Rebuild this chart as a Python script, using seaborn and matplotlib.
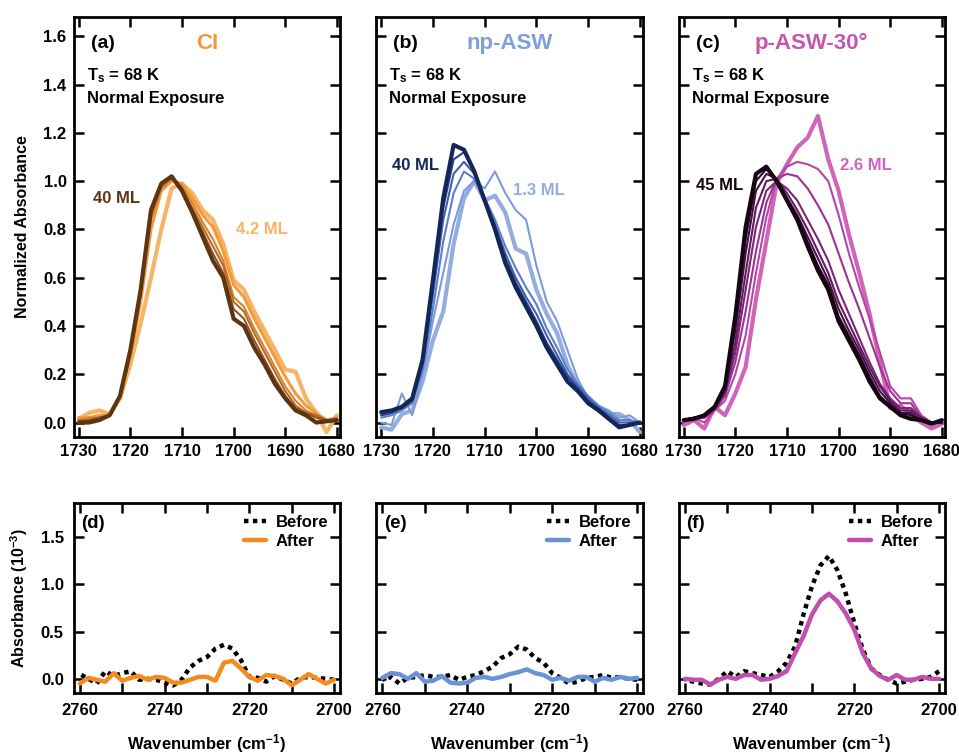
import numpy as np
import pandas as pd
import matplotlib
matplotlib.use("Agg")
import matplotlib.pyplot as plt
import seaborn as sns
from matplotlib.ticker import MultipleLocator

# ---------------- data ----------------
wn_top = [1730, 1728, 1726, 1724, 1722, 1720, 1718, 1716, 1714, 1712, 1710, 1708, 1706,
          1704, 1702, 1700, 1698, 1696, 1694, 1692, 1690, 1688, 1686, 1684, 1682, 1680]

# (a) CI : 4.2 ML -> 40 ML
a_4p2 = [0.015, 0.04, 0.05, 0.035, 0.10, 0.24, 0.41, 0.60, 0.80, 0.97, 0.99, 0.95, 0.88,
         0.84, 0.74, 0.59, 0.55, 0.46, 0.38, 0.30, 0.22, 0.21, 0.10, 0.04, -0.04, 0.03]
a_c2 = [0.02, 0.02, 0.03, 0.03, 0.11, 0.27, 0.50, 0.80, 0.96, 1.00, 0.99, 0.93, 0.86,
        0.81, 0.71, 0.57, 0.52, 0.43, 0.35, 0.27, 0.19, 0.12, 0.07, 0.04, 0.01, 0.02]
a_c3 = [0.01, 0.02, 0.02, 0.03, 0.11, 0.28, 0.52, 0.84, 0.97, 1.01, 0.98, 0.91, 0.83,
        0.76, 0.67, 0.52, 0.48, 0.39, 0.31, 0.23, 0.15, 0.09, 0.05, 0.03, 0.01, 0.02]
a_c4 = [0.01, 0.01, 0.02, 0.03, 0.11, 0.29, 0.53, 0.86, 0.98, 1.01, 0.97, 0.89, 0.81,
        0.73, 0.65, 0.50, 0.46, 0.37, 0.29, 0.21, 0.13, 0.07, 0.04, 0.03, 0.01, 0.01]
a_c5 = [0.00, 0.01, 0.02, 0.03, 0.11, 0.30, 0.54, 0.87, 0.99, 1.02, 0.97, 0.88, 0.79,
        0.70, 0.62, 0.47, 0.43, 0.34, 0.26, 0.18, 0.11, 0.06, 0.04, 0.02, 0.01, 0.01]
a_40 = [0.00, 0.00, 0.01, 0.03, 0.11, 0.30, 0.55, 0.88, 0.99, 1.02, 0.96, 0.87, 0.77,
        0.67, 0.60, 0.43, 0.40, 0.31, 0.24, 0.16, 0.10, 0.05, 0.03, 0.00, 0.005, 0.01]

# (b) np-ASW : 1.3 ML -> 40 ML
b_1p3 = [-0.02, -0.03, 0.035, 0.05, 0.17, 0.34, 0.46, 0.74, 0.93, 1.00, 0.92, 0.94, 0.87,
         0.72, 0.70, 0.55, 0.45, 0.37, 0.24, 0.15, 0.08, 0.06, 0.035, 0.035, 0.01, -0.04]
b_c2 = [0.00, -0.01, 0.12, 0.03, 0.20, 0.42, 0.62, 0.82, 0.96, 1.00, 0.97, 1.04, 0.95,
        0.88, 0.84, 0.65, 0.50, 0.42, 0.30, 0.18, 0.10, 0.07, 0.05, 0.02, 0.03, 0.00]
b_c3 = [0.02, 0.03, 0.05, 0.08, 0.22, 0.47, 0.75, 0.95, 1.04, 1.01, 0.93, 0.84, 0.73,
        0.64, 0.56, 0.49, 0.39, 0.31, 0.22, 0.16, 0.11, 0.07, 0.04, 0.01, 0.01, 0.00]
b_c4 = [0.03, 0.04, 0.06, 0.09, 0.24, 0.53, 0.84, 1.03, 1.08, 1.03, 0.92, 0.82, 0.70,
        0.60, 0.52, 0.45, 0.36, 0.28, 0.20, 0.15, 0.10, 0.06, 0.03, 0.00, 0.00, 0.00]
b_c5 = [0.03, 0.04, 0.06, 0.09, 0.25, 0.56, 0.89, 1.09, 1.12, 1.04, 0.92, 0.81, 0.68,
        0.58, 0.50, 0.42, 0.33, 0.26, 0.19, 0.14, 0.09, 0.06, 0.02, -0.01, -0.01, 0.00]
b_40 = [0.043, 0.05, 0.065, 0.10, 0.26, 0.59, 0.93, 1.15, 1.13, 1.04, 0.92, 0.80, 0.66,
        0.56, 0.48, 0.40, 0.31, 0.24, 0.17, 0.13, 0.08, 0.05, 0.015, -0.02, -0.01, 0.00]

# (c) p-ASW-30 : 2.6 ML -> 45 ML
c_2p6 = [-0.01, 0.01, -0.025, 0.065, 0.03, 0.12, 0.23, 0.51, 0.75, 0.99, 1.07, 1.14, 1.18,
         1.27, 1.09, 0.96, 0.78, 0.62, 0.45, 0.25, 0.06, 0.07, 0.035, 0.00, -0.025, -0.005]
c_c2 = [0.00, 0.02, 0.00, 0.05, 0.09, 0.20, 0.36, 0.62, 0.85, 1.01, 1.06, 1.08, 1.07,
        1.05, 1.00, 0.86, 0.70, 0.56, 0.43, 0.29, 0.15, 0.10, 0.10, 0.03, 0.00, 0.00]
c_c3 = [0.01, 0.02, 0.02, 0.05, 0.11, 0.25, 0.46, 0.71, 0.91, 1.01, 1.03, 1.02, 0.97,
        0.90, 0.82, 0.70, 0.58, 0.47, 0.35, 0.23, 0.13, 0.08, 0.08, 0.02, 0.00, 0.00]
c_c4 = [0.01, 0.02, 0.02, 0.06, 0.12, 0.29, 0.55, 0.81, 0.96, 1.00, 0.97, 0.92, 0.84,
        0.76, 0.67, 0.55, 0.45, 0.35, 0.25, 0.16, 0.10, 0.06, 0.06, 0.02, 0.00, 0.00]
c_c5 = [0.01, 0.02, 0.03, 0.06, 0.13, 0.33, 0.62, 0.89, 1.00, 1.01, 0.95, 0.88, 0.80,
        0.71, 0.62, 0.50, 0.41, 0.32, 0.23, 0.15, 0.09, 0.05, 0.05, 0.02, 0.00, 0.00]
c_c6 = [0.01, 0.02, 0.03, 0.06, 0.14, 0.38, 0.70, 0.96, 1.03, 1.01, 0.93, 0.86, 0.77,
        0.68, 0.59, 0.47, 0.38, 0.30, 0.21, 0.13, 0.08, 0.04, 0.04, 0.01, 0.00, 0.00]
c_c7 = [0.01, 0.02, 0.03, 0.06, 0.14, 0.41, 0.76, 1.00, 1.05, 1.00, 0.92, 0.85, 0.75,
        0.65, 0.57, 0.44, 0.36, 0.28, 0.19, 0.11, 0.07, 0.04, 0.03, 0.01, 0.00, 0.00]
c_45 = [0.01, 0.015, 0.03, 0.065, 0.15, 0.44, 0.81, 1.03, 1.06, 1.00, 0.92, 0.84, 0.73,
        0.63, 0.55, 0.42, 0.34, 0.26, 0.17, 0.10, 0.065, 0.03, 0.015, 0.01, -0.005, 0.01]

# bottom row: 2760 -> 2700
wn_bot = [2760, 2758, 2756, 2754, 2752, 2750, 2748, 2746, 2744, 2742, 2740, 2738, 2736,
          2734, 2732, 2730, 2728, 2726, 2724, 2722, 2720, 2718, 2716, 2714, 2712, 2710,
          2708, 2706, 2704, 2702, 2700]
d_before = [0.05, 0.00, -0.05, 0.08, 0.03, 0.06, 0.08, -0.01, 0.00, -0.01, -0.04, -0.07, -0.01,
            0.12, 0.19, 0.23, 0.32, 0.36, 0.32, 0.20, 0.02, 0.01, -0.03, 0.03, -0.01, -0.05,
            0.01, 0.02, 0.01, 0.00, -0.01]
d_after = [-0.05, 0.01, -0.01, -0.03, 0.06, -0.02, 0.01, 0.03, -0.01, 0.02, 0.01, -0.04, -0.04,
           -0.01, 0.02, 0.02, -0.02, 0.17, 0.19, 0.11, 0.02, -0.02, 0.04, 0.03, 0.00, -0.07,
           -0.01, 0.05, 0.00, -0.05, -0.01]
e_before = [-0.01, 0.02, -0.05, 0.01, 0.02, 0.04, 0.02, 0.02, 0.04, -0.01, 0.02, 0.04, 0.08,
            0.13, 0.22, 0.26, 0.34, 0.31, 0.22, 0.17, 0.06, 0.01, -0.05, -0.03, 0.01, 0.02,
            0.04, 0.01, 0.02, 0.00, -0.01]
e_after = [0.01, 0.06, 0.05, 0.00, 0.06, -0.03, -0.02, 0.03, -0.04, -0.05, -0.04, 0.01, 0.02,
           0.00, 0.02, 0.05, 0.07, 0.10, 0.06, 0.04, -0.01, 0.01, -0.02, 0.02, 0.02, -0.03,
           0.01, -0.01, 0.02, 0.00, 0.01]
f_before = [-0.01, -0.03, -0.05, -0.06, 0.00, 0.08, 0.02, 0.08, 0.06, 0.04, 0.02, 0.08, 0.17,
            0.34, 0.68, 0.98, 1.20, 1.30, 1.15, 0.90, 0.59, 0.31, 0.11, 0.04, -0.01, -0.05,
            -0.03, -0.01, 0.00, 0.02, 0.08]
f_after = [0.00, -0.01, -0.01, -0.06, -0.01, 0.02, 0.00, 0.04, 0.04, -0.01, 0.00, 0.03, 0.08,
           0.27, 0.45, 0.68, 0.83, 0.90, 0.82, 0.69, 0.52, 0.27, 0.11, 0.03, -0.01, 0.04,
           -0.01, -0.01, 0.02, 0.00, 0.00]

panel_titles = ["CI", "np-ASW", "p-ASW-30°"]
panel_letters_top = ["(a)", "(b)", "(c)"]
panel_letters_bot = ["(d)", "(e)", "(f)"]
thick_labels = [("40 ML", "4.2 ML"), ("40 ML", "1.3 ML"), ("45 ML", "2.6 ML")]

# ---------------- style ----------------
sns.set_style("ticks")
plt.rcParams["font.family"] = ["Liberation Sans", "DejaVu Sans"]
plt.rcParams["font.weight"] = "bold"
plt.rcParams["mathtext.fontset"] = "custom"
plt.rcParams["mathtext.bf"] = "Liberation Sans:bold"
plt.rcParams["mathtext.rm"] = "Liberation Sans:bold"
plt.rcParams["mathtext.default"] = "bf"
plt.rcParams["axes.linewidth"] = 2.0
for key in ["axes.edgecolor", "text.color", "axes.labelcolor", "xtick.color", "ytick.color"]:
    plt.rcParams[key] = "black"

title_colors = ["#F5963A", "#7F9FDB", "#C755B0"]
after_colors = ["#F58A1F", "#6A93D6", "#C04FAE"]
top_curves = [
    [a_4p2, a_c2, a_c3, a_c4, a_c5, a_40],
    [b_1p3, b_c2, b_c3, b_c4, b_c5, b_40],
    [c_2p6, c_c2, c_c3, c_c4, c_c5, c_c6, c_c7, c_45],
]
top_colors = [
    ["#F7B466", "#F29A3C", "#D9822E", "#B86A25", "#94531D", "#5E3512"],
    ["#93ADE0", "#7C9BDC", "#5C7FCB", "#3F5FAE", "#2A4488", "#142658"],
    ["#D063BA", "#B545A6", "#9C3292", "#80237A", "#641963", "#48104A", "#2E0A30", "#150611"],
]
top_lw = [
    [3.0, 2.2, 1.5, 1.5, 1.5, 3.0],
    [3.0, 1.5, 1.5, 1.5, 1.5, 3.0],
    [3.0, 1.5, 1.5, 1.5, 1.5, 1.5, 1.5, 3.0],
]
label_pos = [((1727.2, 0.93), (1699.5, 0.80)),
             ((1727.9, 1.065), (1704.5, 0.96)),
             ((1727.7, 0.98), (1699.7, 1.065))]
label_colors = [("#5E3512", "#F7B466"), ("#142658", "#93ADE0"), ("#150611", "#D063BA")]
bottom_sets = [(d_before, d_after), (e_before, e_after), (f_before, f_after)]

W, H = 959, 753
fig = plt.figure(figsize=(W / 100, H / 100), dpi=100)

lefts = [73.5, 376, 678.5]
widths = [266.5, 267, 266.5]

for i in range(3):
    ax = fig.add_axes([lefts[i] / W, (H - 437) / H, widths[i] / W, 420 / H])
    for yv, col, lw in zip(top_curves[i], top_colors[i], top_lw[i]):
        sns.lineplot(x=wn_top, y=yv, ax=ax, color=col, linewidth=lw, legend=False)
    ax.set_xlim(1731, 1679.4)
    ax.set_ylim(-0.06, 1.68)
    ax.xaxis.set_major_locator(MultipleLocator(10))
    ax.yaxis.set_major_locator(MultipleLocator(0.2))
    ax.tick_params(direction="in", top=True, right=True, length=7.5, width=1.8,
                   labelsize=12, pad=5)
    if i > 0:
        ax.set_yticklabels([])
    else:
        ax.set_ylabel("Normalized Absorbance", fontsize=11.5, fontweight="bold", labelpad=10)
    ax.set_xlabel("")
    for s in ax.spines.values():
        s.set_linewidth(2.0)
        s.set_color("black")
    ax.text(0.065, 0.938, panel_letters_top[i], transform=ax.transAxes, fontsize=14,
            fontweight="bold", va="center", ha="left")
    ax.text(0.5, 0.938, panel_titles[i], transform=ax.transAxes, fontsize=16,
            fontweight="bold", va="center", ha="center", color=title_colors[i])
    ax.text(0.05, 0.86, r"T$_\mathbf{s}$ = 68 K", transform=ax.transAxes, fontsize=12,
            fontweight="bold", va="center", ha="left")
    ax.text(0.05, 0.805, "Normal Exposure", transform=ax.transAxes, fontsize=12,
            fontweight="bold", va="center", ha="left")
    (p1, p2) = label_pos[i]
    ax.text(p1[0], p1[1], thick_labels[i][0], fontsize=12, fontweight="bold",
            va="center", ha="left", color=label_colors[i][0])
    ax.text(p2[0], p2[1], thick_labels[i][1], fontsize=12, fontweight="bold",
            va="center", ha="left", color=label_colors[i][1])

for i in range(3):
    ax = fig.add_axes([lefts[i] / W, (H - 693) / H, widths[i] / W, 190 / H])
    bef, aft = bottom_sets[i]
    sns.lineplot(x=wn_bot, y=bef, ax=ax, color="black", linewidth=3.2,
                 linestyle=(0, (1, 1)), label="Before")
    sns.lineplot(x=wn_bot, y=aft, ax=ax, color=after_colors[i], linewidth=3.2,
                 label="After")
    ax.set_xlim(2761.5, 2698.6)
    ax.set_ylim(-0.15, 1.86)
    ax.xaxis.set_major_locator(MultipleLocator(20))
    ax.xaxis.set_minor_locator(MultipleLocator(10))
    ax.yaxis.set_major_locator(MultipleLocator(0.5))
    ax.tick_params(which="both", direction="in", top=True, right=True, length=7.5,
                   width=1.8, labelsize=12, pad=7)
    for s in ax.spines.values():
        s.set_linewidth(2.0)
        s.set_color("black")
    if i > 0:
        ax.set_yticklabels([])
        ax.set_ylabel("")
    else:
        ax.set_ylabel(r"Absorbance (10$^\mathbf{-3}$)", fontsize=11.5, fontweight="bold",
                      labelpad=8)
    ax.set_xlabel(r"Wavenumber (cm$^\mathbf{-1}$)", fontsize=12, fontweight="bold",
                  labelpad=10)
    ax.text(0.03, 0.89, panel_letters_bot[i], transform=ax.transAxes, fontsize=13.5,
            fontweight="bold", va="center", ha="left")
    leg = ax.legend(loc="upper right", frameon=False, fontsize=12, handlelength=1.3,
                    handletextpad=0.6, labelspacing=0.25, borderaxespad=0.3,
                    bbox_to_anchor=(1.0, 1.0))
    for t in leg.get_texts():
        t.set_fontweight("bold")

fig.savefig("out.png", dpi=100)
